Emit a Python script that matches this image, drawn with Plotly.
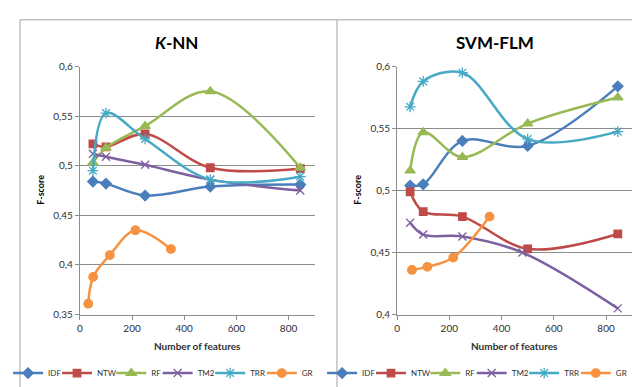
import plotly.graph_objects as go

# ---------------- data ----------------
series_names = ["IDF", "NTW", "RF", "TM2", "TRR", "GR"]
x_features = [50, 100, 250, 500, 845]

# K-NN panel
knn_idf = [0.484, 0.482, 0.470, 0.479, 0.481]
knn_ntw = [0.522, 0.519, 0.532, 0.498, 0.497]
knn_rf = [0.503, 0.518, 0.540, 0.575, 0.498]
knn_tm2 = [0.512, 0.509, 0.501, 0.486, 0.475]
knn_trr = [0.495, 0.553, 0.527, 0.486, 0.489]
knn_gr_x = [32, 51, 115, 213, 349]
knn_gr = [0.361, 0.388, 0.410, 0.435, 0.416]

# SVM-FLM panel
svm_idf = [0.504, 0.505, 0.540, 0.536, 0.584]
svm_ntw = [0.499, 0.483, 0.479, 0.453, 0.465]
svm_rf = [0.516, 0.547, 0.527, 0.554, 0.575]
svm_tm2_x = [50, 100, 250, 480, 845]
svm_tm2 = [0.474, 0.4645, 0.463, 0.450, 0.405]
svm_trr = [0.5675, 0.588, 0.595, 0.5415, 0.5475]
svm_gr_x = [57, 116, 215, 354]
svm_gr = [0.436, 0.4385, 0.446, 0.479]

x_ticks = [0, 200, 400, 600, 800]
panel_titles = ["<b><i>K</i>-NN</b>", "<b>SVM-FLM</b>"]
x_title = "<b>Number of features</b>"
y_title = "<b>F-score</b>"

knn = {
    "IDF": (x_features, knn_idf), "NTW": (x_features, knn_ntw),
    "RF": (x_features, knn_rf), "TM2": (x_features, knn_tm2),
    "TRR": (x_features, knn_trr), "GR": (knn_gr_x, knn_gr),
}
svm = {
    "IDF": (x_features, svm_idf), "NTW": (x_features, svm_ntw),
    "RF": (x_features, svm_rf), "TM2": (svm_tm2_x, svm_tm2),
    "TRR": (x_features, svm_trr), "GR": (svm_gr_x, svm_gr),
}

# ---------------- styling ----------------
W, H = 640, 387
FONT = "Lato, 'Liberation Sans', Arial, sans-serif"
TXT = "#303030"
GRID = "#8C8C8C"

def px(x):
    return x / W

def py(y):
    return 1 - y / H

colors = {"IDF": "#4A7EBB", "NTW": "#BE4B48", "RF": "#98B954",
          "TM2": "#7D60A0", "TRR": "#46AAC5", "GR": "#F69240"}
markers = {
    "IDF": dict(symbol="diamond", size=8),
    "NTW": dict(symbol="square", size=7.5),
    "RF": dict(symbol="triangle-up", size=9),
    "TM2": dict(symbol="x-thin", size=8),
    "TRR": dict(symbol="asterisk", size=9),
    "GR": dict(symbol="circle", size=8.5),
}

# legend glyph start positions (px) for each panel, one single-entry legend per series
legend_starts = [
    [11, 60.4, 115.2, 162, 215, 267.1],
    [328, 377.4, 432.2, 479, 532, 584.1],
]
legend_y = 370.5
LEG_FONT = 8
LEG_OFFSET = 17  # distance from legend box left edge to the glyph line start

fig = go.Figure()
leg_idx = 0
for p, (data, xa, ya) in enumerate([(knn, "x", "y"), (svm, "x2", "y2")]):
    for i, name in enumerate(series_names):
        xs, ys = data[name]
        c = colors[name]
        mk = dict(markers[name])
        mk["color"] = c
        mk["line"] = dict(color=c, width=1.3)
        leg_idx += 1
        lid = "legend" if leg_idx == 1 else f"legend{leg_idx}"
        fig.add_trace(go.Scatter(
            x=xs, y=ys, name=name, mode="lines+markers",
            line=dict(color=c, width=2.5, shape="spline", smoothing=1),
            marker=mk, xaxis=xa, yaxis=ya, legend=lid, showlegend=True,
        ))
        fig.update_layout(**{lid: dict(
            x=px(legend_starts[p][i] - LEG_OFFSET), xanchor="left",
            y=py(legend_y), yanchor="middle",
            orientation="h", bgcolor="rgba(0,0,0,0)", borderwidth=0,
            font=dict(family=FONT, size=LEG_FONT, color=TXT),
            itemwidth=30,
        )})

axis_common = dict(
    showline=True, linecolor=GRID, linewidth=1,
    ticks="outside", ticklen=4, tickcolor=GRID,
    tickfont=dict(family=FONT, size=10, color=TXT),
    zeroline=False,
)

fig.update_layout(
    width=W, height=H,
    showlegend=True,
    margin=dict(l=0, r=0, t=0, b=0),
    paper_bgcolor="white", plot_bgcolor="white",
    separators=", ",
    font=dict(family=FONT, color=TXT),
    xaxis=dict(domain=[px(66.5), px(303.5)], range=[0, 900], tickvals=x_ticks,
               showgrid=False, anchor="y", **axis_common),
    yaxis=dict(domain=[py(310), py(53.3)], range=[0.35, 0.6], dtick=0.05, tick0=0.35,
               showgrid=True, gridcolor=GRID, gridwidth=1, anchor="x", **axis_common),
    xaxis2=dict(domain=[px(386.7), px(624)], range=[0, 900], tickvals=x_ticks,
                showgrid=False, anchor="y2", **axis_common),
    yaxis2=dict(domain=[py(310), py(53.3)], range=[0.4, 0.6], dtick=0.05, tick0=0.4,
                showgrid=True, gridcolor=GRID, gridwidth=1, anchor="x2", **axis_common),
)

# panel titles and axis titles
title_x = [164, 486]
xtitle_x = [185, 505.5]
ytitle_x = [27, 347]
for p in range(2):
    fig.add_annotation(text=panel_titles[p], x=px(title_x[p]), y=py(28),
                       xref="paper", yref="paper", showarrow=False,
                       xanchor="center", yanchor="middle",
                       font=dict(family=FONT, size=17, color="black"))
    fig.add_annotation(text=x_title, x=px(xtitle_x[p]), y=py(342),
                       xref="paper", yref="paper", showarrow=False,
                       xanchor="center", yanchor="middle",
                       font=dict(family=FONT, size=10, color=TXT))
    fig.add_annotation(text=y_title, x=px(ytitle_x[p]), y=py(181),
                       xref="paper", yref="paper", showarrow=False,
                       textangle=-90, xanchor="center", yanchor="middle",
                       font=dict(family=FONT, size=9, color="black"))

# chart-area borders
border = dict(color="#C0C0C0", width=1.5)
fig.add_shape(type="line", xref="paper", yref="paper",
              x0=px(6), x1=1, y0=py(5), y1=py(5), line=border)
fig.add_shape(type="line", xref="paper", yref="paper",
              x0=px(6), x1=px(6), y0=py(5), y1=0, line=border)
fig.add_shape(type="line", xref="paper", yref="paper",
              x0=px(326), x1=px(326), y0=py(5), y1=0, line=border)

fig.write_html("out.html")
